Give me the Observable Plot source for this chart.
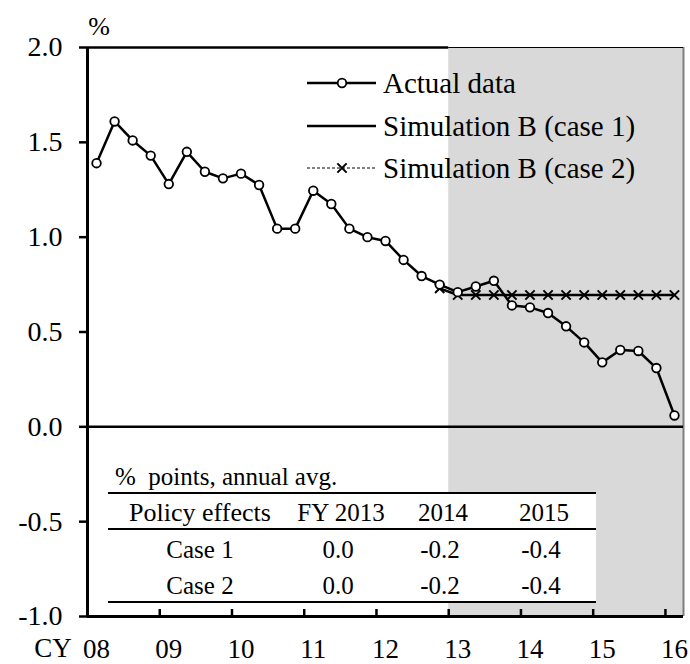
<!DOCTYPE html>
<html><head><meta charset="utf-8">
<script src="https://cdn.jsdelivr.net/npm/d3@7"></script>
<script src="https://cdn.jsdelivr.net/npm/@observablehq/plot@0.6"></script>
<style>
html,body{margin:0;padding:0;background:#fff;}
#chart{width:690px;height:664px;}
svg{display:block;}
#chart svg text{font-family:"Liberation Serif","DejaVu Serif","Times New Roman",serif;}
</style></head><body><div id="chart"></div>
<script>
// ---- data ----
const quarters = [
  "2008Q1","2008Q2","2008Q3","2008Q4","2009Q1","2009Q2","2009Q3","2009Q4",
  "2010Q1","2010Q2","2010Q3","2010Q4","2011Q1","2011Q2","2011Q3","2011Q4",
  "2012Q1","2012Q2","2012Q3","2012Q4","2013Q1","2013Q2","2013Q3","2013Q4",
  "2014Q1","2014Q2","2014Q3","2014Q4","2015Q1","2015Q2","2015Q3","2015Q4","2016Q1"];
const actualValues = [
  1.39,1.61,1.51,1.43,1.28,1.45,1.345,1.31,
  1.335,1.275,1.045,1.045,1.245,1.175,1.045,1.0,
  0.98,0.88,0.795,0.75,0.71,0.74,0.77,0.64,
  0.63,0.60,0.53,0.445,0.34,0.405,0.40,0.31,0.06];
const simQuarters = ["2012Q4","2013Q1","2013Q2","2013Q3","2013Q4","2014Q1","2014Q2",
  "2014Q3","2014Q4","2015Q1","2015Q2","2015Q3","2015Q4","2016Q1"];
const simCase1 = [0.73,0.695,0.695,0.695,0.695,0.695,0.695,0.695,0.695,0.695,0.695,0.695,0.695,0.695];
const simCase2 = [0.73,0.695,0.695,0.695,0.695,0.695,0.695,0.695,0.695,0.695,0.695,0.695,0.695,0.695];
const yTicks = [-1,-0.5,0,0.5,1,1.5,2];
const xTickYears = [2008,2009,2010,2011,2012,2013,2014,2015,2016];
const xTickLabels = ["08","09","10","11","12","13","14","15","16"];
const shadeFrom = 2013;
const legendLabels = ["Actual data","Simulation B (case 1)","Simulation B (case 2)"];
const tableTitle = "%  points, annual avg.";
const tableHeader = ["Policy effects","FY 2013","2014","2015"];
const tableRowNames = ["Case 1","Case 2"];
const tableCase1 = [0.0,-0.2,-0.4];
const tableCase2 = [0.0,-0.2,-0.4];

// ---- helpers ----
const qx = q => +q.slice(0,4) + (+q.slice(5) - 0.5) / 4;
const actual = quarters.map((q,i) => ({x: qx(q), v: actualValues[i]}));
const sim1 = simQuarters.map((q,i) => ({x: qx(q), v: simCase1[i]}));
const sim2 = simQuarters.map((q,i) => ({x: qx(q), v: simCase2[i]}));
const xMax = 2016.25;
const FONT = "Liberation Serif, DejaVu Serif, Times New Roman, serif";

const chart = Plot.plot({
  width: 690, height: 664,
  marginLeft: 87, marginRight: 7, marginTop: 47, marginBottom: 48,
  style: {fontFamily: FONT, fontSize: "28px", background: "white", color: "black", overflow: "visible"},
  x: {domain: [2008, xMax], axis: null},
  y: {domain: [-1, 2], axis: null},
  marks: [
    Plot.rect([{x1: shadeFrom, x2: xMax}], {x1: "x1", x2: "x2", y1: -1, y2: 2, fill: "#d9d9d9"}),
    Plot.ruleX([xMax], {y1: -1, y2: 2, stroke: "#7f7f7f", strokeWidth: 2}),
    Plot.ruleY([2], {x1: 2008, x2: shadeFrom, stroke: "black", strokeWidth: 2.5}),
    Plot.ruleY([2], {x1: shadeFrom, x2: xMax, stroke: "black", strokeWidth: 1.2}),
    Plot.ruleY([0], {x1: 2008, x2: xMax, stroke: "black", strokeWidth: 2.5}),
    Plot.ruleY([-1], {x1: 2008, x2: xMax, stroke: "black", strokeWidth: 3}),
    Plot.ruleX([2008], {y1: -1, y2: 2, stroke: "black", strokeWidth: 3}),
    Plot.ruleX(xTickYears.slice(1), {x: d => d, y1: -1, y2: -1, insetTop: -7, stroke: "black", strokeWidth: 2.5}),
    Plot.axisY(yTicks, {tickSize: 8, tickPadding: 17, strokeWidth: 2.5, fontSize: 28, label: null,
      tickFormat: d => d.toFixed(1)}),
    Plot.axisX(xTickYears, {tickSize: 0, tickPadding: 22, dx: 9, fontSize: 27, label: null,
      tickFormat: d => xTickLabels[xTickYears.indexOf(d)]}),
    // simulations
    Plot.line(sim2, {x: "x", y: "v", stroke: "black", strokeWidth: 1, strokeDasharray: "3,2"}),
    Plot.line(sim1, {x: "x", y: "v", stroke: "black", strokeWidth: 2.5}),
    Plot.dot(sim2, {x: "x", y: "v", symbol: "times", r: 4.3, stroke: "black", strokeWidth: 2}),
    // actual
    Plot.line(actual, {x: "x", y: "v", stroke: "black", strokeWidth: 2.5}),
    Plot.dot(actual, {x: "x", y: "v", r: 4.3, fill: "white", stroke: "black", strokeWidth: 1.8})
  ]
});
document.getElementById("chart").appendChild(chart);

// ---- annotations: legend, table, unit labels ----
const svg = d3.select(chart);
const ann = svg.append("g").attr("font-family", FONT).attr("fill", "black").attr("text-anchor", "start");

ann.append("text").attr("x", 99).attr("y", 35).attr("text-anchor", "middle")
  .attr("font-size", 26).text("%");
ann.append("text").attr("x", 53).attr("y", 657).attr("text-anchor", "middle")
  .attr("font-size", 27).text("CY");

// legend
const legY = [83, 126, 168];
legendLabels.forEach((lab, i) => {
  const g = ann.append("g");
  g.append("line").attr("x1", 307).attr("x2", 376).attr("y1", legY[i]).attr("y2", legY[i])
    .attr("stroke", "black").attr("stroke-width", i === 2 ? 1 : 2.5)
    .attr("stroke-dasharray", i === 2 ? "3,2" : null);
  if (i === 0) g.append("circle").attr("cx", 342).attr("cy", legY[i]).attr("r", 4.3)
    .attr("fill", "white").attr("stroke", "black").attr("stroke-width", 1.8);
  if (i === 2) g.append("path").attr("d", d3.symbol(d3.symbolTimes, Math.PI * 4.3 * 4.3)())
    .attr("transform", `translate(342,${legY[i]})`).attr("fill", "none")
    .attr("stroke", "black").attr("stroke-width", 2);
  g.append("text").attr("x", 383).attr("y", legY[i] + 10).attr("text-anchor", "start")
    .attr("font-size", 29).text(lab);
});

// table
const tb = ann.append("g");
tb.append("rect").attr("x", 108).attr("y", 493).attr("width", 488).attr("height", 109).attr("fill", "white");
[493, 529, 602].forEach(y => tb.append("line").attr("x1", 108).attr("x2", 596)
  .attr("y1", y).attr("y2", y).attr("stroke", "black").attr("stroke-width", 2));
tb.append("text").attr("x", 115).attr("y", 485).attr("font-size", 25).attr("text-anchor", "start")
  .style("white-space", "pre").text(tableTitle);
const colX = [200, 341, 443, 544];
tableHeader.forEach((h, j) => tb.append("text").attr("x", colX[j]).attr("y", 521)
  .attr("text-anchor", "middle").attr("font-size", j === 0 ? 26 : 25).text(h));
[tableCase1, tableCase2].forEach((row, r) => {
  const y = [558, 594][r];
  tb.append("text").attr("x", colX[0]).attr("y", y).attr("text-anchor", "middle")
    .attr("font-size", 25).text(tableRowNames[r]);
  row.forEach((v, j) => tb.append("text").attr("x", colX[j + 1] - 3).attr("y", y)
    .attr("text-anchor", "middle").attr("font-size", 25).text(v.toFixed(1)));
});
</script>
</body></html>
